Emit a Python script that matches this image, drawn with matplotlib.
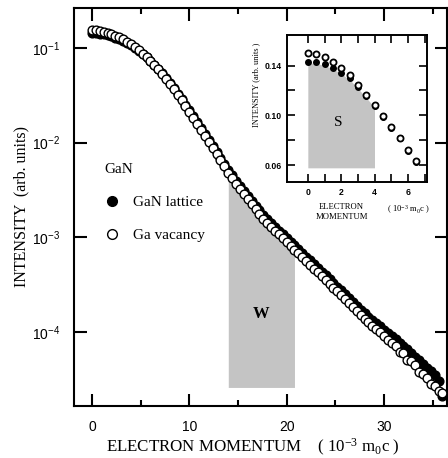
import numpy as np
import matplotlib
matplotlib.use("Agg")
import matplotlib.pyplot as plt
from matplotlib.lines import Line2D

plt.rcParams['font.family'] = ['Liberation Serif', 'DejaVu Serif']
plt.rcParams['mathtext.default'] = 'regular'

# main panel: electron momentum (10^-3 m0c), log10 of intensity
momentum = np.arange(91) * 0.4
log_vacancy = [
    -0.810, -0.813, -0.819, -0.829, -0.840, -0.855, -0.871, -0.889, -0.911, -0.936,
    -0.963, -0.993, -1.025, -1.059, -1.097, -1.138, -1.182, -1.227, -1.275, -1.327,
    -1.380, -1.435, -1.492, -1.551, -1.612, -1.675, -1.737, -1.799, -1.862, -1.926,
    -1.990, -2.054, -2.118, -2.184, -2.252, -2.320, -2.376, -2.432, -2.488, -2.544,
    -2.600, -2.652, -2.704, -2.754, -2.802, -2.850, -2.890, -2.930, -2.970, -3.010,
    -3.050, -3.090, -3.130, -3.170, -3.210, -3.250, -3.290, -3.330, -3.370, -3.410,
    -3.450, -3.490, -3.530, -3.570, -3.610, -3.650, -3.694, -3.738, -3.780, -3.820,
    -3.860, -3.896, -3.932, -3.968, -4.004, -4.040, -4.080, -4.120, -4.150, -4.210,
    -4.220, -4.300, -4.310, -4.350, -4.420, -4.440, -4.490, -4.550, -4.570, -4.620,
    -4.640]
log_lattice = [
    -0.845, -0.846, -0.850, -0.857, -0.865, -0.877, -0.890, -0.906, -0.925, -0.948,
    -0.972, -1.000, -1.030, -1.062, -1.098, -1.137, -1.179, -1.223, -1.270, -1.320,
    -1.372, -1.426, -1.482, -1.540, -1.599, -1.660, -1.720, -1.781, -1.843, -1.905,
    -1.968, -2.031, -2.094, -2.158, -2.224, -2.290, -2.345, -2.400, -2.455, -2.510,
    -2.565, -2.616, -2.667, -2.716, -2.763, -2.810, -2.850, -2.889, -2.928, -2.967,
    -3.006, -3.046, -3.085, -3.125, -3.164, -3.204, -3.243, -3.283, -3.322, -3.362,
    -3.401, -3.441, -3.480, -3.520, -3.559, -3.598, -3.640, -3.682, -3.722, -3.762,
    -3.800, -3.838, -3.874, -3.905, -3.938, -3.975, -4.010, -4.038, -4.075, -4.118,
    -4.150, -4.178, -4.226, -4.262, -4.290, -4.335, -4.378, -4.410, -4.452, -4.520,
    -4.680]
vacancy = 10.0 ** np.array(log_vacancy)
lattice = 10.0 ** np.array(log_lattice)

# inset: low momentum part on a linear scale
inset_p = [0, 0.5, 1, 1.5, 2, 2.5, 3, 3.5, 4, 4.5, 5, 5.5, 6, 6.5]
inset_vacancy = [0.1499, 0.1491, 0.1467, 0.1432, 0.1384, 0.1326, 0.1246,
                 0.1166, 0.1082, 0.0995, 0.0904, 0.0819, 0.0720, 0.0632]
inset_lattice = [0.1432, 0.1427, 0.1411, 0.1384, 0.1344, 0.1299, 0.1227,
                 0.1152, 0.1075, 0.0990, 0.0900, 0.0815, 0.0716, 0.0628]

w_window = (14, 21)
s_window = (0, 4)

SANS = 'Liberation Sans'
shade = '#c4c4c4'

fig = plt.figure(figsize=(4.48, 4.58), dpi=100)
ax = fig.add_axes([74/448, 1-406/458, 373/448, 398/458])

# W region
m = (momentum >= w_window[0]) & (momentum <= w_window[1] + 0.2)
ax.fill_between(momentum[m], 2.6e-5, lattice[m], color=shade, lw=0, zorder=1)
ax.text(17.4, 1.55e-4, 'W', fontsize=12, fontweight='bold', ha='center', va='center')

ax.plot(momentum, lattice, 'o', ms=6.3, mfc='black', mec='black', mew=1.0, zorder=3)
ax.plot(momentum, vacancy, 'o', ms=6.3, mfc='white', mec='black', mew=1.0, zorder=4)

ax.set_yscale('log')
ax.set_xlim(-1.85, 36.47)
ax.set_ylim(1.656e-5, 0.264)
ax.set_yticks([1e-4, 1e-3, 1e-2, 1e-1])
ax.set_yticklabels(['$10^{-4}$', '$10^{-3}$', '$10^{-2}$', '$10^{-1}$'], family=SANS, fontsize=10)
ax.yaxis.set_minor_locator(matplotlib.ticker.NullLocator())
ax.set_xticks([0, 10, 20, 30])
ax.set_xticklabels(['0', '10', '20', '30'], family=SANS, fontsize=10)
ax.set_xticks([5, 15, 25, 35], minor=True)
ax.tick_params(which='both', direction='in', top=True, right=True, width=1.5)
ax.tick_params(which='major', length=9)
ax.tick_params(axis='x', which='major', pad=10)
ax.tick_params(axis='y', which='major', pad=10)
ax.tick_params(which='minor', length=4.5)
for s in ax.spines.values():
    s.set_linewidth(1.5)

ax.set_xlabel('ELECTRON MOMENTUM    ( 10$^{-3}$ m$_0$c )', fontsize=12.2)
ax.xaxis.set_label_coords(0.48, -0.077)
ax.set_ylabel('INTENSITY  (arb. units)', fontsize=11.5, labelpad=2)

handles = [Line2D([], [], ls='none', marker='o', ms=7, mfc='black', mec='black', mew=1.0),
           Line2D([], [], ls='none', marker='o', ms=7, mfc='white', mec='black', mew=1.0)]
leg = ax.legend(handles, ['GaN lattice', 'Ga vacancy'], title='GaN', loc='upper left',
                bbox_to_anchor=(0.065, 0.625), frameon=False, fontsize=11,
                title_fontsize=11, alignment='left', handlelength=1.0,
                handletextpad=0.85, labelspacing=1.25, borderaxespad=0)

# inset
ins = fig.add_axes([287/448, 1-182/458, 140/448, 147/458])
k = [i for i, p in enumerate(inset_p) if s_window[0] <= p <= s_window[1]]
ins.fill_between([inset_p[i] for i in k], 0.0578, [inset_lattice[i] - 0.001 for i in k],
                 color=shade, lw=0, zorder=1)
ins.text(1.8, 0.094, 'S', fontsize=11, ha='center', va='center')
ins.plot(inset_p, inset_lattice, 'o', ms=4.0, mfc='black', mec='black', mew=1.0, zorder=3)
ins.plot(inset_p, inset_vacancy, 'o', ms=4.4, mfc='white', mec='black', mew=1.3, zorder=4)
ins.set_xlim(-1.25, 7.15)
ins.set_ylim(0.0464, 0.1646)
ins.set_xticks(range(8))
ins.set_xticklabels(['0', '', '2', '', '4', '', '6', ''], family=SANS, fontsize=6.2, fontweight='bold')
ins.set_yticks([0.06, 0.08, 0.10, 0.12, 0.14])
ins.set_yticklabels(['0.06', '', '0.10', '', '0.14'], family=SANS, fontsize=6.2, fontweight='bold')
ins.tick_params(direction='in', top=True, right=True, length=5.5, width=1.2, pad=4)
for s in ins.spines.values():
    s.set_linewidth(1.4)
ins.text(0.39, -0.205, 'ELECTRON\nMOMENTUM', transform=ins.transAxes, fontsize=6.2,
         ha='center', va='center', linespacing=1.3)
ins.text(0.865, -0.19, '( 10$^{-3}$ m$_0$c )', transform=ins.transAxes, fontsize=6.2,
         ha='center', va='center')
ins.text(-0.22, 0.66, 'INTENSITY (arb. units )', transform=ins.transAxes, fontsize=6,
         rotation=90, ha='center', va='center')

fig.savefig('out.png', dpi=100)
